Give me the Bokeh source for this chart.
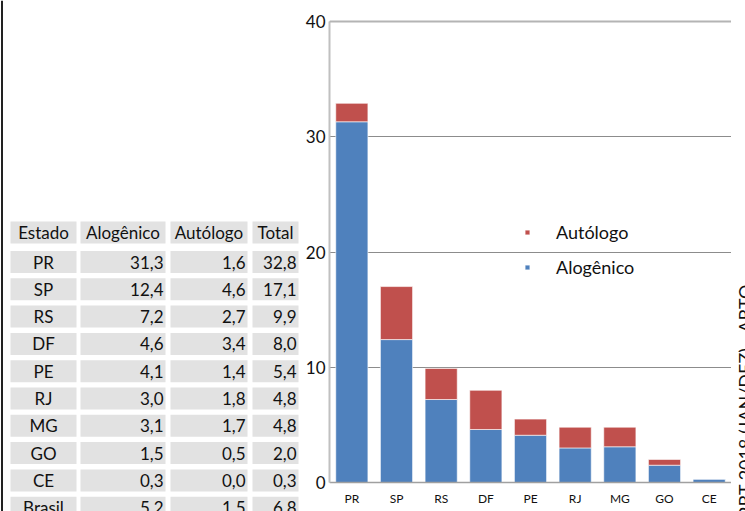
import math
from bokeh.plotting import figure
from bokeh.models import Range1d, FactorRange, Legend, LegendItem, FixedTicker, Span, ColumnDataSource
from bokeh.layouts import row
from bokeh.core.properties import value
from bokeh.embed import file_html
from bokeh.resources import INLINE

# ---------------- data ----------------
estados = ["PR", "SP", "RS", "DF", "PE", "RJ", "MG", "GO", "CE", "Brasil"]
alogenico = [31.3, 12.4, 7.2, 4.6, 4.1, 3.0, 3.1, 1.5, 0.3, 5.2]
autologo = [1.6, 4.6, 2.7, 3.4, 1.4, 1.8, 1.7, 0.5, 0.0, 1.5]
total = [32.8, 17.1, 9.9, 8.0, 5.4, 4.8, 4.8, 2.0, 0.3, 6.8]
headers = ["Estado", "Alogênico", "Autólogo", "Total"]
series_names = ["Alogênico", "Autólogo"]
y_ticks = [0, 10, 20, 30, 40]
fonte = "RBT 2018 (JAN/DEZ) - ABTO"
chart_states = estados[:9]

# ---------------- style ----------------
FONT = "Lato"
TXT = "#111111"
BLUE = "#4F81BD"
RED = "#C0504D"
CELL = "#e2e2e2"
H = 511


def fmt(v):
    return f"{v:.1f}".replace(".", ",")


# ---------------- table (pixel coordinates) ----------------
tbl = figure(width=302, height=H, x_range=Range1d(0, 302), y_range=Range1d(H, 0),
             output_backend="svg", toolbar_location=None, min_border=0,
             x_axis_location=None, y_axis_location=None)
tbl.grid.visible = False
tbl.outline_line_color = None

col_left = [10, 80, 170, 252]
col_right = [76, 165, 247, 298]
header_y = 232
row_y0 = 261.5
row_pitch = 27.3
cell_h = 22

cx, cy, cw = [], [], []
for j in range(4):
    cx.append((col_left[j] + col_right[j]) / 2)
    cy.append(header_y)
    cw.append(col_right[j] - col_left[j])
for i in range(len(estados)):
    for j in range(4):
        cx.append((col_left[j] + col_right[j]) / 2)
        cy.append(row_y0 + row_pitch * i)
        cw.append(col_right[j] - col_left[j])
tbl.rect(x=cx, y=cy, width=cw, height=cell_h, fill_color=CELL, line_color=None)

tbl.text(x=[(col_left[j] + col_right[j]) / 2 for j in range(4)], y=[header_y] * 4, text=headers,
         text_align="center", text_baseline="middle", text_font=value(FONT),
         text_font_size="17px", text_color=TXT)

rows_y = [row_y0 + row_pitch * i for i in range(len(estados))]
tbl.text(x=[(col_left[0] + col_right[0]) / 2] * len(estados), y=rows_y, text=estados,
         text_align="center", text_baseline="middle", text_font=value(FONT),
         text_font_size="17px", text_color=TXT)
for j, vals in zip([1, 2, 3], [alogenico, autologo, total]):
    tbl.text(x=[col_right[j] - 2] * len(vals), y=rows_y, text=[fmt(v) for v in vals],
             text_align="right", text_baseline="middle", text_font=value(FONT),
             text_font_size="17px", text_color=TXT)

tbl.add_layout(Span(location=1.5, dimension="height", line_color="#222222", line_width=2))

# ---------------- chart ----------------
src = ColumnDataSource(dict(estado=chart_states,
                            **{series_names[0]: alogenico[:9], series_names[1]: autologo[:9]}))

px_per_unit = (482 - 21) / 40.0
y_lo = -(H - 482) / px_per_unit
y_hi = 40 + 21 / px_per_unit

ch = figure(width=429, height=H, x_range=FactorRange(*chart_states), y_range=Range1d(y_lo, y_hi),
            output_backend="svg", toolbar_location=None,
            min_border_left=26, min_border_right=0, min_border_top=0, min_border_bottom=0)
ch.outline_line_color = None
rends = ch.vbar_stack(series_names, x="estado", width=0.72, color=[BLUE, RED], source=src,
                      line_color="white", line_width=0.6)

ch.xgrid.visible = False
ch.ygrid.ticker = FixedTicker(ticks=y_ticks)
ch.ygrid.grid_line_color = "#8c8c8c"
ch.ygrid.grid_line_width = 1
ch.add_layout(Span(location=40, dimension="width", line_color="#b4b4b4", line_width=2))

ch.yaxis.ticker = FixedTicker(ticks=y_ticks)
ch.yaxis.bounds = (0, 40)
ch.yaxis.major_label_text_font = FONT
ch.yaxis.major_label_text_font_size = "17px"
ch.yaxis.major_label_text_color = TXT
ch.yaxis.major_tick_out = 0
ch.yaxis.major_tick_in = 0
ch.yaxis.minor_tick_out = 0
ch.yaxis.minor_tick_in = 0
ch.yaxis.axis_line_color = "#c0c0c0"
ch.yaxis.axis_line_width = 2
ch.yaxis.major_label_standoff = 4

ch.xaxis.fixed_location = 0
ch.xaxis.major_label_text_font = FONT
ch.xaxis.major_label_text_font_size = "12px"
ch.xaxis.major_label_text_color = TXT
ch.xaxis.major_tick_out = 0
ch.xaxis.major_tick_in = 0
ch.xaxis.axis_line_color = "#a0a0a0"
ch.xaxis.axis_line_width = 1.5
ch.xaxis.major_label_standoff = 8

legend = Legend(items=[LegendItem(label=series_names[1], renderers=[rends[1]]),
                       LegendItem(label=series_names[0], renderers=[rends[0]])],
                location=(195, 233), orientation="vertical",
                label_text_font=FONT, label_text_font_size="18px", label_text_color=TXT,
                glyph_width=6, glyph_height=6, label_standoff=26, spacing=13,
                padding=0, margin=0, border_line_color=None, background_fill_alpha=0)
ch.add_layout(legend)

# ---------------- rotated source text ----------------
side = figure(width=14, height=H, x_range=Range1d(731, 745), y_range=Range1d(H, 0),
              output_backend="svg", toolbar_location=None, min_border=0,
              x_axis_location=None, y_axis_location=None)
side.grid.visible = False
side.outline_line_color = None
side.text(x=[744], y=[283], text=[fonte], angle=math.pi / 2, text_align="right",
          text_baseline="alphabetic", text_font=value(FONT), text_font_size="18px",
          text_color=TXT)

layout = row(tbl, ch, side)
open("out.html", "w").write(file_html(layout, INLINE))
